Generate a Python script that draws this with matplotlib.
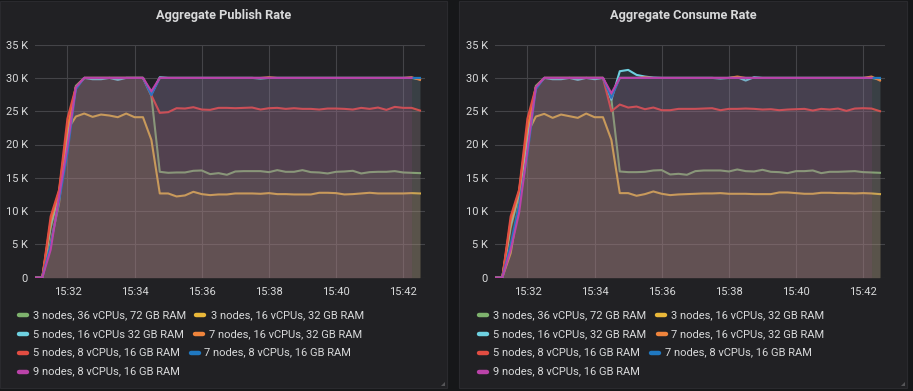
import numpy as np
import pandas as pd
import matplotlib
matplotlib.use("Agg")
import matplotlib.pyplot as plt
import matplotlib.dates as mdates
from matplotlib.patches import Rectangle, Polygon
from matplotlib.lines import Line2D

plt.rcParams['font.family'] = ['Roboto', 'DejaVu Sans']

# 15 s samples from 15:31:00 to 15:42:30
times = pd.date_range("2020-01-01 15:31:00", "2020-01-01 15:42:30", freq="15s")

labels_pub = ["3 nodes, 36 vCPUs, 72 GB RAM", "3 nodes, 16 vCPUs, 32 GB RAM",
              "5 nodes, 16 vCPUs 32 GB RAM", "7 nodes, 16 vCPUs, 32 GB RAM",
              "5 nodes, 8 vCPUs, 16 GB RAM", "7 nodes, 8 vCPUs, 16 GB RAM",
              "9 nodes, 8 vCPUs, 16 GB RAM"]
labels_con = ["3 nodes, 36 vCPUs, 72 GB RAM", "3 nodes, 16 vCPUs, 32 GB RAM",
              "5 nodes, 16 vCPUs, 32 GB RAM", "7 nodes, 16 vCPUs, 32 GB RAM",
              "5 nodes, 8 vCPUs, 16 GB RAM", "7 nodes, 8 vCPUs, 16 GB RAM",
              "9 nodes, 8 vCPUs, 16 GB RAM"]
colors = ["#7EB26D", "#EAB839", "#6ED0E0", "#EF843C", "#E24D42", "#1F78C1", "#BA43A9"]

# ---- publish rate (values in K msg/s) ----
pub_3n36 = [0, 0, 7.5, 12.5, 21.5, 28.8, 30, 30, 30, 30, 30, 30, 30, 30, 27.3,
            15.9, 15.75, 15.8, 15.8, 16.05, 16.1, 15.55, 15.7, 15.45, 15.95, 16.0, 16.0, 16.0,
            15.85, 16.15, 15.9, 15.9, 16.15, 15.85, 15.8, 15.65, 15.9, 15.95, 16.05, 15.65,
            15.85, 15.9, 15.9, 16.0, 15.8, 15.75, 15.7]
pub_3n16 = [0, 0, 5.2, 11.2, 22.2, 24.2, 24.65, 24.15, 24.5, 24.35, 24.1, 24.65, 24.1, 24.1, 20.7,
            12.65, 12.65, 12.2, 12.35, 12.9, 12.55, 12.4, 12.5, 12.5, 12.65, 12.65, 12.65,
            12.6, 12.7, 12.55, 12.55, 12.5, 12.5, 12.5, 12.75, 12.75, 12.7, 12.5, 12.55,
            12.65, 12.75, 12.65, 12.65, 12.65, 12.65, 12.7, 12.65]
pub_5n16 = [0, 0, 8.0, 12.8, 21.0, 28.5, 30, 29.8, 29.8, 30, 29.7, 30, 30, 30, 27.6,
            30.1, 30, 30, 30, 30, 30, 30, 30, 30, 30, 30, 30, 29.9, 30, 30, 30, 30, 30,
            30, 30, 30, 30, 30, 30, 30, 30, 30, 30, 30, 30, 30, 29.8]
pub_7n16 = [0, 0, 8.5, 13.0, 22.5, 28.6, 30, 30, 30, 30, 30, 30, 30, 30, 27.6,
            30, 30, 30, 30, 30, 30, 30, 30, 30, 30, 30, 30, 30, 30.1, 30, 30, 30, 30,
            30, 30, 30, 30, 30, 30, 30, 30, 30, 30, 30, 30, 30.1, 29.7]
pub_5n8 = [0, 0, 9.2, 13.2, 23.9, 28.6, 30, 30, 30, 30, 30, 30, 30, 30, 27.4,
           24.75, 24.85, 25.45, 25.4, 25.6, 25.25, 25.2, 25.5, 25.5, 25.45, 25.5, 25.55,
           25.25, 25.45, 25.5, 25.35, 25.45, 25.35, 25.35, 25.25, 25.4, 25.4, 25.35, 25.25,
           25.5, 25.35, 25.55, 25.2, 25.65, 25.5, 25.5, 25.1]
pub_7n8 = [0, 0, 5.0, 11.5, 18.7, 28.3, 30, 30, 30, 30, 30, 30, 30, 30, 27.4,
           30, 30, 30, 30, 30, 30, 30, 30, 30, 30, 30, 30, 30, 30, 30, 30, 30, 30,
           30, 30, 30, 30, 30, 30, 30, 30, 30, 30, 30, 30, 30, 30]
pub_9n8 = [0, 0, 4.2, 12.2, 19.7, 28.6, 30, 30, 30, 30, 30, 30, 30, 30, 28.0,
           30, 30, 30, 30, 30, 30, 30, 30, 30, 30, 30, 30, 30, 30, 30, 30, 30, 30,
           30, 30, 30, 30, 30, 30, 30, 30, 30, 30, 30, 30, 30]

# ---- consume rate (values in K msg/s) ----
con_3n36 = [0, 0, 7.5, 12.5, 21.5, 28.8, 30, 30, 30, 30, 30, 30, 30, 30, 26.8,
            15.95, 15.85, 15.85, 15.9, 16.1, 16.15, 15.5, 15.6, 15.45, 16.0, 16.1, 16.1, 16.1,
            15.95, 16.25, 16.0, 15.95, 16.2, 15.9, 15.85, 15.7, 16.0, 16.0, 16.1, 15.7,
            15.9, 15.9, 15.95, 16.0, 15.85, 15.8, 15.75]
con_3n16 = [0, 0, 3.7, 11.2, 21.7, 24.2, 24.6, 24.0, 24.5, 24.25, 24.0, 24.65, 24.1, 24.1, 20.7,
            12.7, 12.7, 12.3, 12.55, 12.95, 12.6, 12.4, 12.5, 12.55, 12.6, 12.65, 12.65,
            12.7, 12.6, 12.6, 12.6, 12.55, 12.55, 12.55, 12.8, 12.8, 12.7, 12.6, 12.6,
            12.75, 12.75, 12.7, 12.7, 12.65, 12.7, 12.65, 12.55]
con_5n16 = [0, 0, 8.0, 12.8, 21.0, 28.5, 30, 29.8, 29.8, 30, 29.7, 30, 29.8, 30, 26.7,
            31.0, 31.2, 30.45, 30.2, 30.05, 30, 30, 30, 30, 30, 30, 30, 29.9, 30, 30.1, 29.6,
            30.1, 30, 30, 30, 30, 30, 30, 30, 30, 30, 30, 30, 30, 30, 30, 29.8]
con_7n16 = [0, 0, 8.5, 13.0, 22.5, 28.6, 30, 30, 30, 30, 30, 30, 30, 30, 27.3,
            30, 30, 30, 30.1, 30, 30, 30, 30, 30, 30, 30, 30, 30, 30, 30.2, 30, 30, 30,
            30, 30, 30, 30, 30, 30, 30, 30, 30, 30, 30, 30, 30.2, 29.6]
con_5n8 = [0, 0, 9.2, 13.2, 23.9, 28.6, 30, 30, 30, 30, 30, 30, 30, 30, 25.0,
           26.0, 25.55, 25.7, 25.3, 25.55, 25.15, 25.15, 25.35, 25.35, 25.35, 25.4, 25.45,
           25.15, 25.35, 25.35, 25.4, 25.35, 25.25, 25.3, 25.15, 25.25, 25.3, 25.35, 25.1,
           25.35, 25.25, 25.4, 25.05, 25.4, 25.45, 25.4, 25.0]
con_7n8 = [0, 0, 5.0, 11.0, 18.5, 28.3, 30, 30, 30, 30, 30, 30, 30, 30, 27.0,
           30, 30, 30, 30, 30, 30, 30, 30, 30, 30, 30, 30, 30, 30, 30, 30, 30, 30,
           30, 30, 30, 30, 30, 30, 30, 30, 30, 30, 30, 30, 30, 30]
con_9n8 = [0, 0, 4.2, 9.7, 19.2, 28.6, 30, 30, 30, 30, 30, 30, 30, 30, 27.7,
           30, 30, 30, 30, 30, 30, 30, 30, 30, 30, 30, 30, 30, 30, 30, 30, 30, 30,
           30, 30, 30, 30, 30, 30, 30, 30, 30, 30, 30, 30, 30]

pub = [pub_3n36, pub_3n16, pub_5n16, pub_7n16, pub_5n8, pub_7n8, pub_9n8]
con = [con_3n36, con_3n16, con_5n16, con_7n16, con_5n8, con_7n8, con_9n8]

W, H = 913, 391
fig = plt.figure(figsize=(W / 100, H / 100), dpi=100)
fig.patch.set_facecolor("#161719")

text_col = "#d8d9da"
grid_col = "#444448"
panel_bg = "#212124"


def px(x, y):
    return x / W, 1 - y / H


def panel(x0, x1, title, series, labels, ax_left, ax_right, legend_cols):
    fig.patches.append(Rectangle(px(x0, 388), (x1 - x0) / W, 387 / H,
                                 transform=fig.transFigure, facecolor=panel_bg,
                                 edgecolor="#2a2a2e", linewidth=0.8, zorder=-2))
    # resize corner
    fig.patches.append(Polygon([px(x1 - 6, 386), px(x1 - 2, 386), px(x1 - 2, 382)],
                               closed=True, transform=fig.transFigure,
                               facecolor="#555558", edgecolor="none", zorder=-1))
    fig.text((x0 + x1) / 2 / W, 1 - 16 / H, title, color=text_col, fontsize=9.2,
             fontweight="bold", ha="center", va="center")

    ax = fig.add_axes([ax_left / W, 1 - 277.7 / H, (ax_right - ax_left) / W, 233.1 / H])
    ax.set_zorder(1)
    ax.set_facecolor(panel_bg)
    # like flot: each series draws its fill then its line, so later fills sit over earlier lines
    for k, (vals, c) in enumerate(zip(series, colors)):
        t = times[:len(vals)]
        v = np.array(vals) * 1000
        ax.fill_between(t, 0, v, color=c, alpha=0.1, linewidth=0, zorder=2 + 2 * k)
        ax.plot(t, v, color=c, linewidth=1.5, solid_joinstyle="round", zorder=3 + 2 * k)

    ax.set_ylim(0, 35000)
    ax.set_xlim(pd.Timestamp("2020-01-01 15:31:02"), pd.Timestamp("2020-01-01 15:42:39"))
    ax.set_yticks(range(0, 35001, 5000))
    ax.set_yticklabels(["0"] + ["%d K" % k for k in range(5, 36, 5)])
    ax.xaxis.set_major_locator(mdates.MinuteLocator(byminute=range(32, 43, 2)))
    ax.xaxis.set_major_formatter(mdates.DateFormatter("%H:%M"))
    ax.tick_params(length=0, colors=text_col, labelsize=8.0)
    ax.tick_params(axis="y", pad=5)
    ax.tick_params(axis="x", pad=7)
    ax.grid(True, color=grid_col, linewidth=0.8, zorder=1)
    ax.set_axisbelow(True)
    for s in ax.spines.values():
        s.set_visible(False)

    # legend drawn by hand in Grafana style
    rows = [315, 334, 352.7, 371.7]
    for i, (lab, c) in enumerate(zip(labels, colors)):
        r = i // 2
        sx, tx = legend_cols[i]
        y = 1 - rows[r] / H
        fig.add_artist(Line2D([(sx + 2) / W, (sx + 10) / W], [y, y], color=c, linewidth=3.2,
                              solid_capstyle="round", transform=fig.transFigure))
        fig.text(tx / W, y, lab, color=text_col, fontsize=8.0, ha="left", va="center")
    return ax


panel(0, 447, "Aggregate Publish Rate", pub, labels_pub, 35, 425,
      [(17, 33), (194, 211), (17, 33), (192.5, 209), (17, 33), (188.5, 204.3), (17, 33)])
panel(459, 907, "Aggregate Consume Rate", con, labels_con, 495, 885,
      [(476.5, 492.7), (655, 671), (476.5, 492.7), (656, 671), (476.5, 492.7), (649, 665),
       (476.5, 492.7)])

fig.savefig("out.png", dpi=100, facecolor=fig.get_facecolor())
